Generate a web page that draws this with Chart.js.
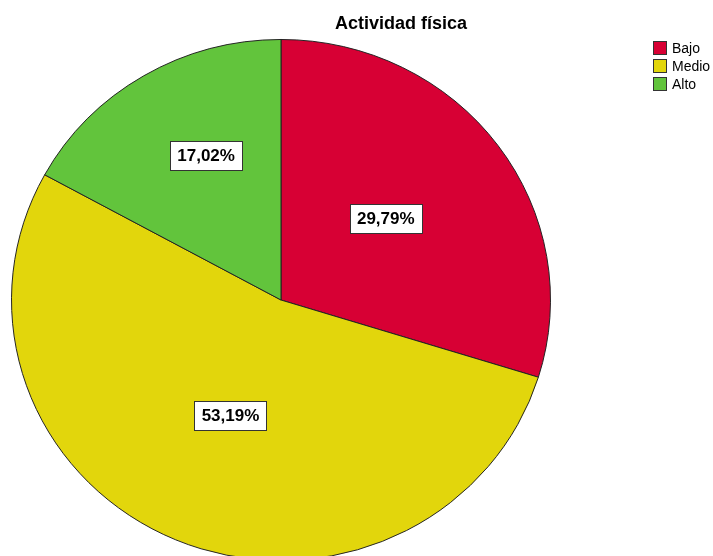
<!DOCTYPE html>
<html>
<head>
<meta charset="utf-8">
<script src="https://cdn.jsdelivr.net/npm/chart.js@4/dist/chart.umd.min.js"></script>
<style>
  body { margin: 0; width: 713px; height: 556px; overflow: hidden; background: #fff; position: relative; font-family: "Liberation Sans", Arial, sans-serif; }
  #wrap { position: absolute; left: 0; top: 0; width: 713px; height: 600px; }
  #title { position: absolute; top: 13px; left: 301px; width: 200px; text-align: center; font-weight: bold; font-size: 18px; color: #000; }
  #legend { position: absolute; left: 653px; top: 41px; font-size: 14px; color: #000; }
  #legend div { height: 18px; line-height: 15px; white-space: nowrap; }
  #legend span { display: inline-block; width: 12px; height: 12px; border: 1px solid #333; vertical-align: -2px; margin-right: 5px; }
</style>
</head>
<body>
<div id="wrap"><canvas id="myChart"></canvas></div>
<div id="title">Actividad física</div>
<div id="legend"></div>
<script>
var categories = ['Bajo', 'Medio', 'Alto']
var values = [29.79, 53.19, 17.02]
var valueLabels = ['29,79%', '53,19%', '17,02%']
var colors = ['rgb(215, 0, 52)', 'rgb(226, 214, 12)', 'rgb(98, 196, 60)']

// label placement: fraction of radius and angle nudge (degrees)
var labelPos = [0.5, 0.48, 0.62]
var labelTurn = [-2.6, 0, 4]
// the original pie is a bit squashed vertically
var squash = 261 / 270

var legend = document.getElementById('legend')
for (var i = 0; i < categories.length; i++) {
  var row = document.createElement('div')
  row.innerHTML = '<span style="background:' + colors[i] + '"></span>' + categories[i]
  legend.appendChild(row)
}

var ellipse = {
  id: 'ellipse',
  beforeDatasetsDraw: function(chart) {
    var arc = chart.getDatasetMeta(0).data[0]
    var ctx = chart.ctx
    ctx.save()
    ctx.translate(0, arc.y)
    ctx.scale(1, squash)
    ctx.translate(0, -arc.y)
  },
  afterDatasetsDraw: function(chart) {
    chart.ctx.restore()
  }
}

var boxLabels = {
  id: 'boxLabels',
  afterDatasetsDraw: function(chart) {
    var ctx = chart.ctx
    var arcs = chart.getDatasetMeta(0).data
    ctx.save()
    ctx.font = 'bold 17px "Liberation Sans", Arial, sans-serif'
    ctx.textAlign = 'center'
    ctx.textBaseline = 'middle'
    arcs.forEach(function(arc, i) {
      var mid = (arc.startAngle + arc.endAngle) / 2 + labelTurn[i] * Math.PI / 180
      var r = arc.outerRadius * labelPos[i]
      var x = arc.x + Math.cos(mid) * r
      var y = arc.y + Math.sin(mid) * r * squash
      var w = Math.round(ctx.measureText(valueLabels[i]).width + 14)
      var h = 29
      var bx = Math.round(x - w / 2) + 0.5
      var by = Math.round(y - h / 2) + 0.5
      ctx.fillStyle = '#fff'
      ctx.fillRect(bx, by, w, h)
      ctx.strokeStyle = '#333'
      ctx.lineWidth = 1
      ctx.strokeRect(bx, by, w, h)
      ctx.fillStyle = '#000'
      ctx.fillText(valueLabels[i], x, y + 1)
    })
    ctx.restore()
  }
}

var ctx = document.getElementById('myChart').getContext('2d')
var myChart = new Chart(ctx, {
  type: 'pie',
  data: {
    labels: categories,
    datasets: [{
      data: values,
      backgroundColor: colors,
      borderColor: '#222',
      borderWidth: 1
    }]
  },
  options: {
    responsive: true,
    maintainAspectRatio: false,
    animation: false,
    layout: { padding: { left: 11, right: 162, top: 30, bottom: 30 } },
    plugins: {
      legend: { display: false },
      tooltip: { enabled: false }
    }
  },
  plugins: [ellipse, boxLabels]
})
</script>
</body>
</html>
